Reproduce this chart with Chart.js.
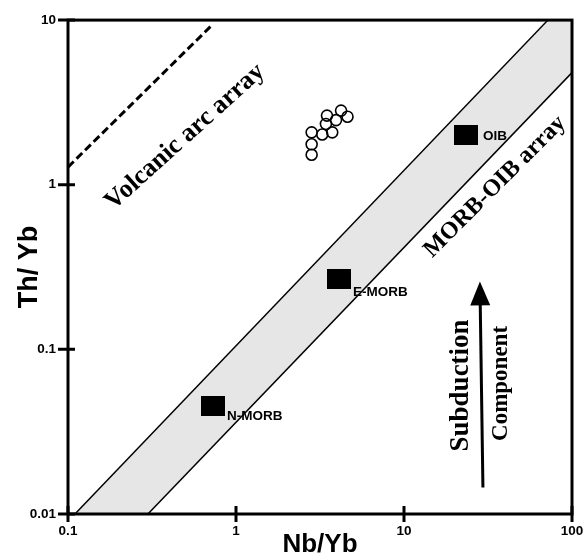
<!DOCTYPE html>
<html><head><meta charset="utf-8">
<script src="https://cdn.jsdelivr.net/npm/chart.js@4.4.1/dist/chart.umd.min.js"></script>
<style>
html,body{margin:0;padding:0;overflow:hidden;background:#fff;width:584px;height:558px}
#wrap{position:absolute;left:0;top:0;width:600px;height:558px}
</style>
</head><body><div id="wrap"><canvas id="c" width="600" height="558"></canvas></div>
<script>
// ---- data ----
const xTicks = [0.1, 1, 10, 100];
const yTicks = [0.01, 0.1, 1, 10];
const sampleNbYb = [2.82, 2.82, 2.82, 3.26, 3.74, 3.48, 3.43, 3.94, 4.22, 4.61];
const sampleThYb = [2.08, 1.76, 1.52, 2.02, 2.08, 2.63, 2.34, 2.47, 2.82, 2.59];
const refNames = ['N-MORB', 'E-MORB', 'OIB'];
const refNbYb = [0.73, 4.10, 23.5];
const refThYb = [0.0455, 0.269, 2.01];
const refLabelNbYb = [0.884, 4.97, 29.5];
const refLabelThYb = [0.0394, 0.222, 1.98];
const arrayUpperNbYb = [0.110, 71.9];
const arrayUpperThYb = [0.01, 10];
const arrayLowerNbYb = [0.299, 100];
const arrayLowerThYb = [0.01, 4.80];
const arcNbYb = [0.1, 0.73];
const arcThYb = [1.28, 9.46];
const arrowNbYb = [29.5, 28.3];
const arrowThYb = [0.0145, 0.2585];
const areaTexts = ['Volcanic arc array', 'MORB-OIB array', 'Subduction', 'Component'];
const areaTextNbYb = [0.497, 34.8, 21.8, 37.8];
const areaTextThYb = [1.95, 0.973, 0.0604, 0.0621];

// ---- styles ----
const areaTextStyle = [
  {font: 'bold 26px "Liberation Serif"', rot: -42},
  {font: 'bold 24px "Liberation Serif"', rot: -45},
  {font: 'bold 27px "Liberation Serif"', rot: -90},
  {font: 'bold 23px "Liberation Serif"', rot: -90}
];

const pts = (xs, ys) => xs.map((x, i) => ({x: x, y: ys[i]}));

const sq = document.createElement('canvas');
sq.width = 24; sq.height = 20;
const g = sq.getContext('2d'); g.fillStyle = '#000'; g.fillRect(0, 0, 24, 20);

const bandPoly = [
  {x: arrayUpperNbYb[0], y: arrayUpperThYb[0]},
  {x: arrayUpperNbYb[1], y: arrayUpperThYb[1]},
  {x: xTicks[3], y: yTicks[3]},
  {x: arrayLowerNbYb[1], y: arrayLowerThYb[1]},
  {x: arrayLowerNbYb[0], y: arrayLowerThYb[0]}
];

const decor = {
  id: 'decor',
  afterDatasetsDraw(chart) {
    const ctx = chart.ctx, xs = chart.scales.x, ys = chart.scales.y;
    const {left, right, top, bottom} = chart.chartArea;
    const px = v => xs.getPixelForValue(v), py = v => ys.getPixelForValue(v);
    ctx.save();
    // frame
    ctx.strokeStyle = '#000'; ctx.lineWidth = 3;
    ctx.strokeRect(left, top, right - left, bottom - top);
    // crossing ticks
    ctx.beginPath();
    xTicks.forEach(v => { const x = px(v); ctx.moveTo(x, bottom - 8); ctx.lineTo(x, bottom + 8); });
    yTicks.forEach(v => { const y = py(v); ctx.moveTo(left - 10, y); ctx.lineTo(left + 7, y); });
    ctx.stroke();
    // area texts
    ctx.fillStyle = '#000'; ctx.textAlign = 'center'; ctx.textBaseline = 'middle';
    areaTexts.forEach((t, i) => {
      ctx.save();
      ctx.translate(px(areaTextNbYb[i]), py(areaTextThYb[i]));
      ctx.rotate(areaTextStyle[i].rot * Math.PI / 180);
      ctx.font = areaTextStyle[i].font;
      ctx.fillText(t, 0, 0);
      ctx.restore();
    });
    // reference labels
    ctx.font = 'bold 13.5px "Liberation Sans"'; ctx.textAlign = 'left';
    refNames.forEach((t, i) => ctx.fillText(t, px(refLabelNbYb[i]), py(refLabelThYb[i])));
    // arrow
    const x0 = px(arrowNbYb[0]), y0 = py(arrowThYb[0]), x1 = px(arrowNbYb[1]), y1 = py(arrowThYb[1]);
    const L = Math.hypot(x1 - x0, y1 - y0), dx = (x1 - x0) / L, dy = (y1 - y0) / L;
    ctx.lineWidth = 3;
    ctx.beginPath(); ctx.moveTo(x0, y0); ctx.lineTo(x1 - dx * 20, y1 - dy * 20); ctx.stroke();
    ctx.beginPath();
    ctx.moveTo(x1, y1);
    ctx.lineTo(x1 - dx * 24 - dy * 10, y1 - dy * 24 + dx * 10);
    ctx.lineTo(x1 - dx * 24 + dy * 10, y1 - dy * 24 - dx * 10);
    ctx.closePath(); ctx.fill();
    ctx.restore();
  }
};

new Chart(document.getElementById('c'), {
  type: 'scatter',
  data: {
    datasets: [
      {data: pts(sampleNbYb, sampleThYb), pointStyle: 'circle', pointRadius: 5.5,
       pointBorderWidth: 1.6, pointBorderColor: '#000', pointBackgroundColor: 'rgba(0,0,0,0)', order: 0},
      {data: pts(refNbYb, refThYb), pointStyle: sq, pointRadius: 12, order: 1},
      {data: pts(arcNbYb, arcThYb), showLine: true, borderColor: '#000', borderWidth: 3,
       borderDash: [8, 4], pointRadius: 0, order: 2},
      {data: pts(arrayUpperNbYb, arrayUpperThYb), showLine: true, borderColor: '#000', borderWidth: 1.5, pointRadius: 0, order: 3},
      {data: pts(arrayLowerNbYb, arrayLowerThYb), showLine: true, borderColor: '#000', borderWidth: 1.5, pointRadius: 0, order: 4},
      {data: bandPoly, showLine: true, borderWidth: 0, borderColor: 'rgba(0,0,0,0)', backgroundColor: '#e6e6e6',
       fill: 'shape', pointRadius: 0, order: 10}
    ]
  },
  options: {
    responsive: false, animation: false, events: [], devicePixelRatio: 1,
    layout: {padding: {left: 0, top: 15, right: 28, bottom: 0}},
    plugins: {legend: {display: false}, tooltip: {enabled: false}},
    scales: {
      x: {
        type: 'logarithmic', min: 0.1, max: 100,
        afterBuildTicks: s => { s.ticks = xTicks.map(v => ({value: v})); },
        afterFit: s => { s.height = 44; },
        grid: {display: false, drawTicks: false}, border: {display: false},
        ticks: {autoSkip: false, maxRotation: 0, padding: 9, color: '#000',
          font: {family: 'Liberation Sans', weight: 'bold', size: 13.5}, callback: v => String(v)},
        title: {display: true, text: 'Nb/Yb', color: '#000', padding: {top: 0, bottom: 0},
          font: {family: 'Liberation Sans', weight: 'bold', size: 26, lineHeight: 1}}
      },
      y: {
        type: 'logarithmic', min: 0.01, max: 10,
        afterBuildTicks: s => { s.ticks = yTicks.map(v => ({value: v})); },
        afterFit: s => { s.width = 68; },
        grid: {display: false, drawTicks: false}, border: {display: false},
        ticks: {autoSkip: false, padding: 12, color: '#000',
          font: {family: 'Liberation Sans', weight: 'bold', size: 13.5}, callback: v => String(v)},
        title: {display: true, text: 'Th/ Yb', color: '#000', padding: {top: 16, bottom: 0},
          font: {family: 'Liberation Sans', weight: 'bold', size: 27, lineHeight: 1}}
      }
    }
  },
  plugins: [decor]
});
</script>
</body></html>
